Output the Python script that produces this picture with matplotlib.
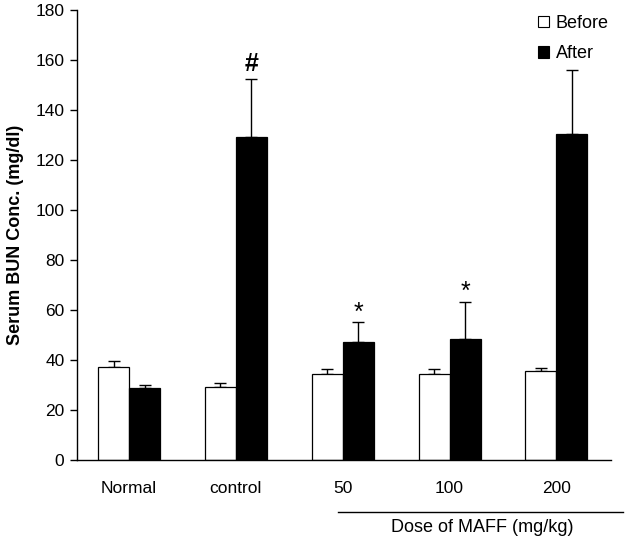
import matplotlib
matplotlib.use("Agg")
import matplotlib.pyplot as plt
import numpy as np
from matplotlib.lines import Line2D

plt.rcParams['font.family'] = ['Liberation Sans', 'DejaVu Sans']

categories = ["Normal", "control", "50", "100", "200"]
before = [37.1, 29.1, 34.3, 34.3, 35.5]
before_err = [2.4, 1.6, 2.0, 2.2, 1.5]
after = [28.7, 129.1, 47.4, 48.3, 130.5]
after_err = [1.2, 23.2, 7.7, 15.0, 25.5]
marks = ["", "#", "*", "*", ""]

fig = plt.figure(figsize=(6.3, 5.42), dpi=100)
ax = fig.add_axes([0.1222, 0.1513, 0.848, 0.8302])

x = np.arange(len(categories))
w = 0.29
ax.bar(x - w/2, before, w, color='white', edgecolor='black', linewidth=0.9, zorder=2)
ax.bar(x + w/2, after, w, color='black', edgecolor='black', linewidth=0.9, zorder=2)
ax.errorbar(x - w/2, before, yerr=[np.zeros(5), before_err], fmt='none',
            ecolor='black', elinewidth=1, capsize=4, capthick=1, zorder=1)
ax.errorbar(x + w/2, after, yerr=[np.zeros(5), after_err], fmt='none',
            ecolor='black', elinewidth=1, capsize=4, capthick=1, zorder=1)

for xi, a, e, m in zip(x, after, after_err, marks):
    if m == "#":
        ax.text(xi + w/2, a + e + 1.5, m, ha='center', va='bottom', fontsize=18,
                fontweight='bold', path_effects=[])
    elif m:
        ax.text(xi + w/2, a + e - 1, m, ha='center', va='bottom', fontsize=18)

ax.set_xlim(-0.487, 4.513)
ax.set_ylim(0, 180)
ax.set_yticks(np.arange(0, 181, 20))
ax.set_xticks(x)
ax.set_xticklabels(categories, fontsize=12.5)
ax.tick_params(axis='x', length=0, pad=15)
ax.tick_params(axis='y', length=5, width=1, labelsize=12.5, direction='out', pad=4)
for s in ['top', 'right']:
    ax.spines[s].set_visible(False)
for s in ['left', 'bottom']:
    ax.spines[s].set_linewidth(1)
ax.set_ylabel("Serum BUN Conc. (mg/dl)", fontsize=13, fontweight='bold', labelpad=8)

handles = [plt.Rectangle((0, 0), 1, 1, facecolor='white', edgecolor='black', linewidth=0.8),
           plt.Rectangle((0, 0), 1, 1, facecolor='black', edgecolor='black', linewidth=0.8)]
fig.legend(handles, ["Before", "After"], loc='upper left', bbox_to_anchor=(0.828, 1.003),
           frameon=False, fontsize=13, handlelength=0.6, handleheight=0.6,
           handletextpad=0.4, labelspacing=0.75)

fig.add_artist(Line2D([338/630, 623/630], [1 - 512/542, 1 - 512/542], color='black', linewidth=1))
fig.text(482/630, 1 - 528/542, "Dose of MAFF (mg/kg)", ha='center', va='center', fontsize=13)

fig.savefig("out.png", dpi=100)
